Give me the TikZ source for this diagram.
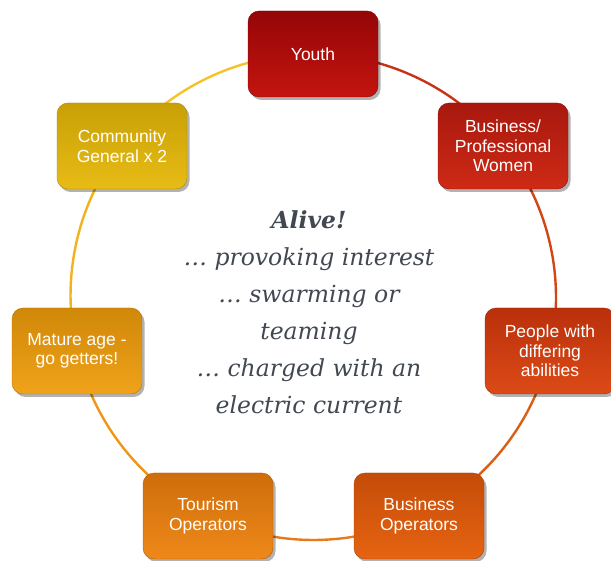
\documentclass[tikz,border=0pt]{standalone}
\usepackage{fontspec}
\newfontfamily\boxfont{Liberation Sans}
\newfontfamily\centerfont{DejaVu Serif}
\usetikzlibrary{shadows,backgrounds}
\definecolor{cYouth}{RGB}{148,6,6}\definecolor{cYouthL}{RGB}{196,20,16}
\definecolor{cBPW}{RGB}{168,24,14}\definecolor{cBPWL}{RGB}{206,42,22}
\definecolor{cPeople}{RGB}{186,48,12}\definecolor{cPeopleL}{RGB}{220,74,22}
\definecolor{cBusOp}{RGB}{196,76,8}\definecolor{cBusOpL}{RGB}{230,100,18}
\definecolor{cTour}{RGB}{206,110,10}\definecolor{cTourL}{RGB}{238,136,26}
\definecolor{cMature}{RGB}{208,136,8}\definecolor{cMatureL}{RGB}{240,162,26}
\definecolor{cComm}{RGB}{200,160,6}\definecolor{cCommL}{RGB}{232,188,22}
\definecolor{sA}{RGB}{200,50,22}
\definecolor{sB}{RGB}{210,70,20}
\definecolor{sC}{RGB}{218,95,20}
\definecolor{sD}{RGB}{232,122,30}
\definecolor{sE}{RGB}{240,150,22}
\definecolor{sF}{RGB}{242,178,30}
\definecolor{sG}{RGB}{245,195,40}
\definecolor{txtgray}{RGB}{66,72,82}
\tikzset{
  box/.style={rounded corners=11pt, minimum width=130pt, minimum height=86pt,
    inner sep=2pt, align=center, text=white,
    font=\boxfont\fontsize{17.5}{19.5}\selectfont,
    top color=#1, bottom color=#1L, draw=#1!85!black, line width=0.4pt,
    drop shadow={shadow xshift=2.5pt, shadow yshift=-3pt, opacity=0.3, fill=black}},
  ring/.style={line width=2.4pt, bend left=25.71, looseness=0.896},
  centertext/.style={align=center, text=txtgray,
    font=\centerfont\fontsize{23.5}{37}\selectfont\itshape}
}
\begin{document}
\begin{tikzpicture}[x=1pt,y=1pt]
\useasboundingbox (0,0) rectangle (611,-561);
\node[box=cYouth]  (youth)  at (313,-54)  {Youth};
\node[box=cBPW]    (bpw)    at (503,-146) {Business/\\Professional\\Women};
\node[box=cPeople] (people) at (550,-351) {People with\\differing\\abilities};
\node[box=cBusOp]  (busop)  at (419,-516) {Business\\Operators};
\node[box=cTour]   (tour)   at (208,-516) {Tourism\\Operators};
\node[box=cMature] (mature) at (77,-351)  {Mature age -\\go getters!};
\node[box=cComm]   (comm)   at (122,-146) {Community\\General x 2};
\begin{scope}[on background layer]
\draw[ring, sA] (youth.center)  to (bpw.center);
\draw[ring, sB] (bpw.center)    to (people.center);
\draw[ring, sC] (people.center) to (busop.center);
\draw[ring, sD] (busop.center)  to (tour.center);
\draw[ring, sE] (tour.center)   to (mature.center);
\draw[ring, sF] (mature.center) to (comm.center);
\draw[ring, sG] (comm.center)   to (youth.center);
\end{scope}
\node[centertext] (alive) at (309,-312)
  {\textbf{Alive!}\\… provoking interest\\… swarming or\\teaming\\… charged with an\\electric current};
\end{tikzpicture}
\end{document}
